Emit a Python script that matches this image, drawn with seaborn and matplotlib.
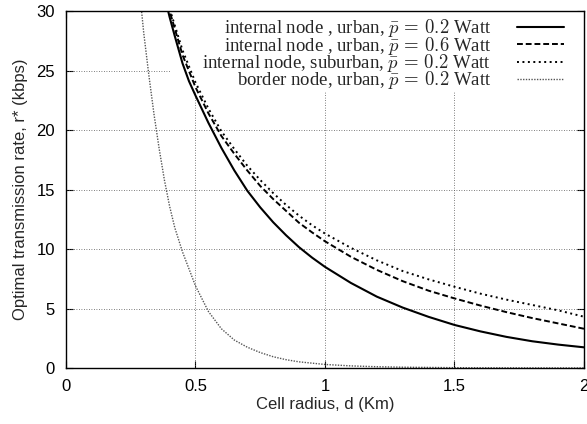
import pandas as pd
import matplotlib
matplotlib.use('Agg')
import matplotlib.pyplot as plt
from matplotlib.patches import Rectangle
import seaborn as sns

# values (cell radius in km, rate in kbps)
d_solid = [0.39, 0.40, 0.42, 0.45, 0.475, 0.5, 0.55, 0.6, 0.65, 0.7, 0.75, 0.8, 0.85, 0.9, 0.95,
           1.0, 1.1, 1.2, 1.3, 1.4, 1.5, 1.6, 1.7, 1.8, 1.9, 2.0]
r_solid = [30.4, 29.5, 27.9, 25.6, 24.1, 22.9, 20.6, 18.5, 16.6, 14.9, 13.5, 12.25, 11.15, 10.15, 9.28,
           8.5, 7.15, 6.0, 5.08, 4.3, 3.62, 3.08, 2.62, 2.25, 1.97, 1.74]

d_dashed = [0.395, 0.40, 0.45, 0.5, 0.55, 0.6, 0.65, 0.7, 0.75, 0.8, 0.85, 0.9, 0.95,
            1.0, 1.1, 1.2, 1.3, 1.4, 1.5, 1.6, 1.7, 1.8, 1.9, 2.0]
r_dashed = [30.5, 30.0, 26.3, 23.6, 21.4, 19.5, 18.0, 16.6, 15.3, 14.2, 13.2, 12.2, 11.4,
            10.65, 9.35, 8.25, 7.3, 6.5, 5.85, 5.25, 4.7, 4.2, 3.75, 3.3]

d_dotted = [0.395, 0.40, 0.45, 0.5, 0.55, 0.6, 0.65, 0.7, 0.75, 0.8, 0.85, 0.9, 0.95,
            1.0, 1.1, 1.2, 1.3, 1.4, 1.5, 1.6, 1.7, 1.8, 1.9, 2.0]
r_dotted = [30.6, 30.2, 26.7, 24.0, 21.8, 19.9, 18.4, 17.0, 15.8, 14.7, 13.7, 12.8, 12.0,
            11.3, 10.1, 9.05, 8.15, 7.45, 6.83, 6.25, 5.75, 5.3, 4.85, 4.31]

d_border = [0.29, 0.30, 0.32, 0.34, 0.36, 0.38, 0.40, 0.42, 0.45, 0.5, 0.55, 0.6, 0.65, 0.7, 0.75,
            0.8, 0.85, 0.9, 1.0, 1.1, 1.2, 1.3, 1.4, 1.5, 1.6, 1.8, 2.0]
r_border = [30.4, 28.2, 24.6, 21.3, 18.4, 15.8, 13.6, 11.8, 9.75, 6.9, 4.75, 3.3, 2.35, 1.75, 1.3,
            0.95, 0.7, 0.52, 0.3, 0.18, 0.11, 0.07, 0.05, 0.03, 0.02, 0.01, 0.005]

labels = ['internal node , urban, $\\bar{p}\\,=\\,0.2$ Watt',
          'internal node , urban, $\\bar{p}\\,=\\,0.6$ Watt',
          'internal node, suburban, $\\bar{p}\\,=\\,0.2$ Watt',
          'border node, urban, $\\bar{p}\\,=\\,0.2$ Watt']
x_ticks = [0, 0.5, 1, 1.5, 2]
x_ticklabels = ['0', '0.5', '1', '1.5', '2']
y_ticks = [0, 5, 10, 15, 20, 25, 30]

sns.set_style('ticks')
plt.rcParams['font.family'] = ['Liberation Sans', 'DejaVu Sans']
plt.rcParams['mathtext.fontset'] = 'cm'

fig = plt.figure(figsize=(5.87, 4.24), dpi=100)
ax = fig.add_axes([0.1124, 0.132, 0.8825, 0.842])

# grid drawn by hand so the key can hide it
for x in x_ticks[1:-1]:
    ax.axvline(x, color='#555555', lw=0.6, ls=(0, (1, 2)), zorder=0.8)
for y in y_ticks[1:-1]:
    ax.axhline(y, color='#555555', lw=0.6, ls=(0, (1, 2)), zorder=0.8)
ax.add_patch(Rectangle((0.2, 0.775), 0.8, 0.225, transform=ax.transAxes,
                       facecolor='white', edgecolor='none', zorder=1))

sns.lineplot(x=d_solid, y=r_solid, ax=ax, color='black', lw=1.5, label=labels[0])
sns.lineplot(x=d_dashed, y=r_dashed, ax=ax, color='black', lw=1.4, linestyle=(0, (3, 1.5)), label=labels[1])
sns.lineplot(x=d_dotted, y=r_dotted, ax=ax, color='black', lw=1.4, linestyle=(0, (1, 1.8)), label=labels[2])
sns.lineplot(x=d_border, y=r_border, ax=ax, color='#555555', lw=1.0, linestyle=(0, (1, 1)), label=labels[3])

ax.set_xlim(0, 2)
ax.set_ylim(0, 30)
ax.set_xticks(x_ticks)
ax.set_xticklabels(x_ticklabels)
ax.set_yticks(y_ticks)
ax.tick_params(direction='in', length=5, width=0.8, top=True, right=True, labelsize=12, pad=8, colors='black')
for s in ax.spines.values():
    s.set_visible(True)
    s.set_linewidth(1.0)
    s.set_color('black')

ax.set_xlabel('Cell radius, d (Km)', fontsize=12, labelpad=2)
ax.set_ylabel('Optimal transmission rate, r* (kbps)', fontsize=12, labelpad=6)

ax.legend(loc='upper right', bbox_to_anchor=(0.962, 0.982), frameon=False, markerfirst=False,
          prop={'family': 'Liberation Serif', 'size': 13.5}, handlelength=2.5, handletextpad=1.4,
          labelspacing=-0.25, borderpad=0, borderaxespad=0)

plt.savefig('out.png', dpi=100)
